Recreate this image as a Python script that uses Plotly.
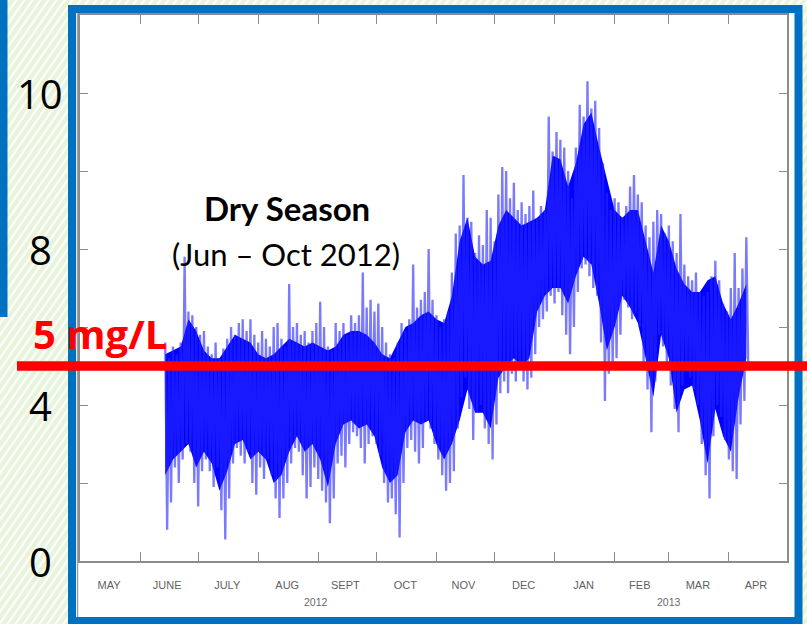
import plotly.graph_objects as go
import pandas as pd

# ---------------- data ----------------
series_start = "2012-06-14"   # first sample
step_days = 2                 # one high / one low extreme per 2-day step

# extremes (light spikes)
do_high = [5.6, 5.2, 5.5, 5.3, 5.6, 7.8, 6.4, 6.3, 6.0, 5.8,
           5.9, 5.5, 5.3, 5.6, 5.2, 5.45, 5.7, 6.0, 5.8, 6.1,
           6.2, 5.9, 6.2, 5.8, 5.6, 5.9, 5.7, 5.5, 6.0, 6.1,
           5.7, 5.5, 7.1, 6.0, 6.1, 5.8, 5.9, 5.6, 5.9, 6.1,
           6.65, 6.0, 5.5, 5.4, 6.1, 5.9, 6.1, 5.8, 6.3, 6.1,
           6.3, 7.4, 6.5, 6.7, 6.4, 6.6, 6.0, 5.6, 5.3, 5.2,
           5.6, 6.1, 5.9, 6.2, 7.6, 6.5, 6.7, 6.9, 8.0, 6.7,
           6.3, 6.0, 6.2, 6.4, 7.4, 8.4, 8.6, 9.9, 8.8, 8.7,
           7.9, 8.35, 8.1, 9.0, 8.8, 8.2, 9.4, 10.1, 10.0, 9.3,
           9.7, 9.0, 9.2, 8.9, 9.1, 9.5, 8.8, 9.1, 9.0, 11.4,
           10.5, 11.0, 10.8, 10.6, 10.0, 9.3, 10.6, 11.7, 11.4, 12.3,
           11.6, 11.8, 11.1, 10.2, 9.45, 9.0, 9.3, 9.2, 8.8, 9.1,
           9.6, 9.9, 9.4, 9.2, 8.6, 8.3, 8.7, 9.0, 8.9, 8.4,
           8.6, 8.2, 7.9, 8.9, 7.6, 7.3, 7.2, 7.4, 6.9, 6.8,
           6.9, 7.3, 7.7, 7.2, 6.6, 6.4, 7.0, 7.9, 7.0, 7.5,
           8.3]

do_low = [0.8, 1.5, 2.4, 2.0, 2.6, 3.0, 2.8, 2.0, 1.4, 2.3,
          2.6, 2.3, 1.9, 2.4, 1.3, 0.55, 1.6, 2.5, 2.9, 2.7,
          2.5, 2.8, 2.0, 1.7, 2.4, 2.1, 2.6, 2.2, 1.6, 1.1,
          1.6, 2.0, 2.5, 2.9, 2.8, 2.2, 1.6, 1.9, 2.4, 2.1,
          1.8, 1.5, 0.97, 1.6, 2.5, 2.7, 2.4, 3.0, 3.3, 3.2,
          2.9, 2.5, 3.0, 3.2, 3.0, 2.7, 2.0, 1.5, 1.6, 1.2,
          0.6, 2.0, 2.9, 3.1, 2.8, 2.5, 2.9, 3.6, 3.4, 3.0,
          2.6, 2.2, 1.8, 2.0, 2.3, 3.4, 4.2, 4.7, 3.9, 3.1,
          3.8, 4.0, 3.4, 3.0, 2.6, 3.5, 4.3, 4.6, 4.3, 4.8,
          4.6, 4.9, 4.6, 4.4, 4.7, 5.3, 6.0, 6.2, 6.4, 6.8,
          6.6, 6.9, 6.3, 5.8, 5.3, 6.0, 6.9, 7.5, 7.6, 7.3,
          7.0, 6.8, 5.6, 4.1, 4.8, 5.0, 5.2, 5.8, 6.7, 6.5,
          6.2, 6.4, 6.0, 5.1, 4.4, 3.3, 4.6, 5.8, 5.5, 5.0,
          4.5, 3.9, 3.3, 4.5, 4.95, 4.7, 4.4, 4.0, 3.0, 2.2,
          1.6, 3.2, 4.0, 3.7, 3.1, 2.6, 2.3, 2.1, 3.5, 4.1,
          5.0]

# dense dark core of the record, one reading per 4 days
core_step_days = 4
core_high = [5.3, 5.4, 5.5, 6.2, 5.9, 5.4, 5.2, 5.2, 5.5, 5.8,
             5.7, 5.6, 5.3, 5.2, 5.3, 5.5, 5.7, 5.6, 5.5, 5.6,
             5.5, 5.4, 5.5, 5.8, 5.9, 5.9, 5.8, 5.6, 5.3, 5.2,
             5.6, 6.0, 6.1, 6.3, 6.4, 6.2, 6.1, 6.8, 8.2, 8.8,
             7.8, 7.6, 7.7, 8.6, 9.0, 8.8, 8.6, 8.7, 8.8, 9.0,
             10.4, 10.3, 9.6, 10.2, 11.2, 11.5, 10.6, 9.8, 9.0, 8.8,
             9.0, 9.0, 8.2, 7.4, 8.6, 8.2, 7.5, 7.1, 6.9, 6.9,
             7.2, 7.3, 6.6, 6.2, 6.6, 7.1]
core_low = [2.2, 2.6, 2.8, 3.0, 2.4, 2.8, 2.5, 1.8, 2.3, 3.0,
            3.1, 2.6, 2.8, 2.6, 2.0, 2.2, 2.8, 3.2, 2.8, 3.0,
            2.6, 1.9, 3.0, 3.5, 3.6, 3.4, 3.5, 3.2, 2.4, 2.0,
            2.2, 3.3, 3.6, 3.5, 3.6, 3.0, 2.6, 3.0, 3.6, 4.4,
            3.8, 3.8, 3.4, 4.7, 5.0, 5.2, 5.0, 5.2, 6.4, 6.8,
            7.0, 7.0, 6.6, 7.3, 7.8, 7.6, 6.6, 5.4, 6.0, 6.8,
            6.5, 6.1, 5.2, 4.2, 5.8, 5.2, 3.8, 4.4, 4.5, 3.6,
            2.5, 3.9, 3.2, 2.8, 4.2, 5.2]

threshold_value = 5
threshold_label = "5 mg/L"

x_range = ["2012-05-01", "2013-05-01"]
month_tick_dates = ["2012-06-01", "2012-07-01", "2012-08-01", "2012-09-01",
                    "2012-10-01", "2012-11-01", "2012-12-01", "2013-01-01",
                    "2013-02-01", "2013-03-01", "2013-04-01"]
month_label_dates = ["2012-05-16", "2012-06-15", "2012-07-16", "2012-08-16",
                     "2012-09-15", "2012-10-16", "2012-11-15", "2012-12-16",
                     "2013-01-16", "2013-02-14", "2013-03-16", "2013-04-15"]
month_labels = ["MAY", "JUNE", "JULY", "AUG", "SEPT", "OCT", "NOV", "DEC",
                "JAN", "FEB", "MAR", "APR"]
year_label_dates = ["2012-08-31", "2013-03-01"]
year_labels = ["2012", "2013"]

y_range = [0, 14]
y_tick_vals = [0, 2, 4, 6, 8, 10, 12]
slide_label_vals = [12, 8, 4, 0]
slide_label_text = ["10", "8", "4", "0"]

# ---------------- geometry helpers (figure pixels -> paper) ----------------
W, H = 807, 624
L, R, T, B = 80, 787, 15, 561


def px(x):
    return (x - L) / (R - L)


def py(y):
    return (B - y) / (B - T)


# ---------------- traces ----------------
core_dates = pd.date_range(series_start, periods=len(core_high),
                           freq=f"{core_step_days}D")

fig = go.Figure()
fig.add_trace(go.Scatter(
    x=core_dates, y=core_high, mode="lines",
    line=dict(color="rgba(0,0,255,0)", width=0),
    hoverinfo="skip", showlegend=False,
))
fig.add_trace(go.Scatter(
    x=core_dates, y=core_low, mode="lines", fill="tonexty",
    fillcolor="#0000FF", line=dict(color="rgba(0,0,255,0)", width=0),
    hoverinfo="skip", showlegend=False,
))

steps = pd.date_range(series_start, periods=len(do_high), freq=f"{step_days}D")
xs, ys = [], []
for d, hi, lo in zip(steps, do_high, do_low):
    xs.append(d)
    ys.append(hi)
    xs.append(d + pd.Timedelta(days=1))
    ys.append(lo)

fig.add_trace(go.Scatter(
    x=xs, y=ys, mode="lines",
    line=dict(color="rgba(40,40,255,0.62)", width=2.3, simplify=False),
    hoverinfo="skip", showlegend=False,
))

# invisible trace that carries the top (mirrored) month-tick axis
fig.add_trace(go.Scatter(
    x=x_range, y=[None, None], xaxis="x2", mode="lines",
    hoverinfo="skip", showlegend=False,
))

# ---------------- background decoration ----------------
shapes = []
path = ""
c = -500
while c < W + 50:
    x0, y0 = c, H + 5
    x1, y1 = c + 440, -5
    path += f"M{px(x0):.5f},{py(y0):.5f} L{px(x1):.5f},{py(y1):.5f} "
    c += 8
shapes.append(dict(type="path", xref="paper", yref="paper", path=path,
                   line=dict(color="rgba(255,255,255,0.8)", width=2.5),
                   layer="below"))
shapes.append(dict(type="rect", xref="paper", yref="paper",
                   x0=px(0), x1=px(7.5), y0=py(317), y1=py(0),
                   fillcolor="#0070C0", line=dict(width=0), layer="below"))
shapes.append(dict(type="rect", xref="paper", yref="paper",
                   x0=px(72), x1=px(798.5), y0=py(621), y1=py(9),
                   fillcolor="white", line=dict(color="#0070C0", width=8),
                   layer="below"))
shapes.append(dict(type="line", xref="paper", yref="paper",
                   x0=px(77.5), x1=px(77.5), y0=py(617), y1=py(13),
                   line=dict(color="#a0a0a0", width=1.5), layer="below"))
shapes.append(dict(type="line", xref="paper", yref="y",
                   x0=px(17), x1=px(807), y0=threshold_value, y1=threshold_value,
                   line=dict(color="#FF0000", width=9.5), layer="above"))

annotations = []
for v, t in zip(slide_label_vals, slide_label_text):
    annotations.append(dict(x=px(40), y=v, xref="paper", yref="y", text=t,
                            showarrow=False, xanchor="center", yanchor="middle",
                            font=dict(family="Open Sans", size=40, color="black")))
annotations.append(dict(x=px(100), y=py(334), xref="paper", yref="paper",
                        text=f"<b>{threshold_label}</b>", showarrow=False,
                        xanchor="center", yanchor="middle",
                        font=dict(family="Open Sans", size=40, color="#FF0000")))
annotations.append(dict(x=px(286.5), y=py(208), xref="paper", yref="paper",
                        text="<b>Dry Season</b>", showarrow=False,
                        xanchor="center", yanchor="middle",
                        font=dict(family="Lato", size=33, color="black")))
annotations.append(dict(x=px(286), y=py(254), xref="paper", yref="paper",
                        text="(Jun – Oct 2012)", showarrow=False,
                        xanchor="center", yanchor="middle",
                        font=dict(family="Lato", size=31, color="black")))
for d, t in zip(year_label_dates, year_labels):
    annotations.append(dict(x=d, y=py(601.5), xref="x", yref="paper", text=t,
                            showarrow=False, xanchor="center", yanchor="middle",
                            font=dict(family="Liberation Sans", size=10.5,
                                      color="#6a6a6a")))

axis_gray = "#8c8c8c"
fig.update_layout(
    width=W, height=H, autosize=False,
    margin=dict(l=L, r=W - R, t=T, b=H - B, pad=0),
    paper_bgcolor="#e9f3db", plot_bgcolor="white",
    shapes=shapes, annotations=annotations,
    xaxis=dict(
        type="date", range=x_range,
        tickmode="array", tickvals=month_label_dates, ticktext=month_labels,
        ticks="", showgrid=False, zeroline=False,
        showline=True, linecolor=axis_gray, linewidth=1.5, mirror=True,
        tickfont=dict(family="Liberation Sans", size=11, color="#5f5f5f"),
        ticklabelstandoff=13,
        minor=dict(tickmode="array", tickvals=month_tick_dates, ticks="inside",
                   ticklen=9, tickwidth=1.3, tickcolor=axis_gray, showgrid=False),
    ),
    xaxis2=dict(
        type="date", range=x_range, overlaying="x", side="top",
        tickmode="array", tickvals=month_tick_dates, ticks="inside",
        ticklen=9, tickwidth=1.3, tickcolor=axis_gray,
        showticklabels=False, showline=False, showgrid=False, zeroline=False,
    ),
    yaxis=dict(
        range=y_range, tickmode="array", tickvals=y_tick_vals,
        showticklabels=False, ticks="inside", ticklen=8, tickwidth=1.3,
        tickcolor=axis_gray, showgrid=False, zeroline=False,
        showline=True, linecolor=axis_gray, linewidth=1.5, mirror="ticks",
    ),
)

fig.write_html("out.html", config={"displayModeBar": False},
               post_script="document.body.style.margin='0';")
